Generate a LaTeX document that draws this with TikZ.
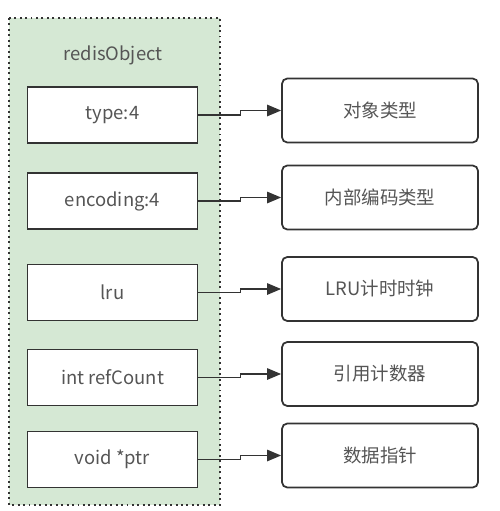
\documentclass[tikz,border=0pt]{standalone}
\usepackage{fontspec}
\setmainfont{Noto Sans CJK SC}
\usetikzlibrary{arrows.meta}
\definecolor{objgreen}{HTML}{D5E8D4}
\definecolor{txtgray}{HTML}{555555}
\definecolor{linegray}{HTML}{333333}
\begin{document}
\begin{tikzpicture}[x=0.02cm, y=-0.02cm,
    every node/.style={font=\fontsize{10.5}{12}\selectfont, text=txtgray},
    fieldbox/.style={draw=linegray, line width=1.1pt, fill=white, minimum width=3.4cm, minimum height=1.12cm},
    descbox/.style={draw=linegray, line width=1pt, fill=white, rounded corners=3pt, minimum width=3.92cm, minimum height=1.28cm},
    arr/.style={draw=linegray, line width=0.9pt, -{Triangle[length=8pt, width=6.5pt]}}]
  \useasboundingbox (0,0) rectangle (500,511);
  \draw[fill=objgreen, draw=linegray, dotted, line width=1.1pt] (9,18) rectangle (220,505);
  \node (title) at (113,55) {redisObject};
  \node[fieldbox] (type) at (112.5,115) {type:4};
  \node[fieldbox] (enc) at (112.5,201) {encoding:4};
  \node[fieldbox] (lru) at (112.5,292.5) {lru};
  \node[fieldbox] (ref) at (112.5,377.5) {int refCount};
  \node[fieldbox] (ptr) at (112.5,459.5) {void *ptr};
  \node[descbox] (typed) at (380,110.5) {对象类型};
  \node[descbox] (encd) at (380,197.5) {内部编码类型};
  \node[descbox] (lrud) at (380,289) {LRU计时时钟};
  \node[descbox] (refd) at (380,374) {引用计数器};
  \node[descbox] (ptrd) at (380,455.5) {数据指针};
  \draw[arr] (type.east) -- ++(42,0) |- (typed.west);
  \draw[arr] (enc.east) -- ++(42,0) |- (encd.west);
  \draw[arr] (lru.east) -- ++(42,0) |- (lrud.west);
  \draw[arr] (ref.east) -- ++(42,0) |- (refd.west);
  \draw[arr] (ptr.east) -- ++(42,0) |- (ptrd.west);
\end{tikzpicture}
\end{document}
